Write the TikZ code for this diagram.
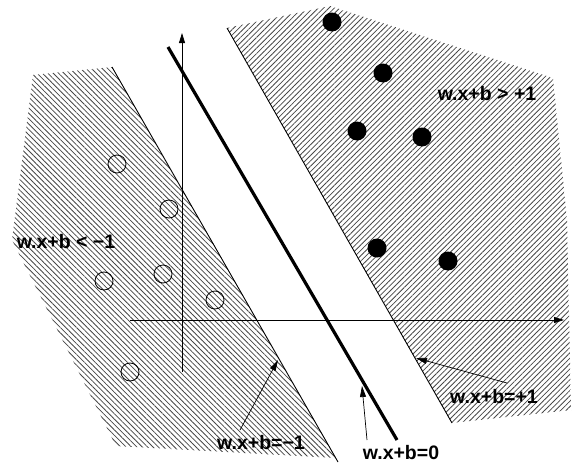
\documentclass[tikz,border=0pt]{standalone}
\usepackage{fontspec}
\setmainfont{Liberation Sans}[BoldFont={Liberation Sans Bold}]
\usetikzlibrary{patterns.meta,arrows.meta}
\begin{document}
\begin{tikzpicture}[x=1pt,y=-1pt,
  hatchL/.style={pattern={Lines[angle=-45,distance=3.8pt,line width=0.8pt]},pattern color=black!72},
  hatchR/.style={pattern={Lines[angle=45,distance=3.8pt,line width=0.8pt]},pattern color=black!72},
  bound/.style={line width=0.9pt},
  axisline/.style={line width=0.8pt,-{Triangle[length=10pt,width=6pt]}},
  ptr/.style={line width=0.7pt,-{Triangle[length=11pt,width=6pt]}},
  sep/.style={line width=3.2pt},
  negdot/.style={circle,draw,line width=0.8pt,minimum size=18pt,inner sep=0pt},
  posdot/.style={circle,fill=black,minimum size=19pt,inner sep=0pt},
  lab/.style={font=\bfseries\fontsize{19.5}{21}\selectfont,inner sep=0pt}]
\useasboundingbox (0,0) rectangle (572,466);
% hatched half-planes
\fill[hatchL] (33,75) -- (112,67) -- (336,458) -- (116,446) -- (12,240) -- cycle;
\fill[hatchR] (227,28) -- (330,6) -- (553,78) -- (567,220) -- (571,410) -- (452,423) -- cycle;
% margin lines
\coordinate (m1a) at (112,67);
\coordinate (m1b) at (338,462);
\coordinate (p1a) at (227,28);
\coordinate (p1b) at (452,423);
\coordinate (h0a) at (168,47);
\coordinate (h0b) at (397,440);
\draw[bound] (m1a) -- (m1b);
\draw[bound] (p1a) -- (p1b);
% axes
\coordinate (xa) at (130,320);
\coordinate (xb) at (564,320);
\coordinate (ya) at (182,372);
\coordinate (yb) at (182,33);
\draw[axisline] (xa) -- (xb);
\draw[axisline] (ya) -- (yb);
% separating hyperplane
\draw[sep] (h0a) -- (h0b);
% negative samples
\node[negdot] (n1) at (117,164) {};
\node[negdot] (n2) at (169,209) {};
\node[negdot] (n3) at (104,281) {};
\node[negdot] (n4) at (163,274) {};
\node[negdot] (n5) at (215,300) {};
\node[negdot] (n6) at (130,372) {};
% positive samples
\node[posdot] (q1) at (332,22) {};
\node[posdot] (q2) at (383,73) {};
\node[posdot] (q3) at (357,131) {};
\node[posdot] (q4) at (422,137) {};
\node[posdot] (q5) at (377,248) {};
\node[posdot] (q6) at (448,261) {};
% labels
\node[lab] (lpos) at (487,94) {w.x+b > +1};
\node[lab] (lneg) at (66,242) {w.x+b < −1};
\node[lab] (lm1) at (261,443) {w.x+b=−1};
\node[lab] (lp1) at (494,397) {w.x+b=+1};
\node[lab] (l0) at (401,453) {w.x+b=0};
% pointers
\coordinate (sm1) at (240,430);
\coordinate (tm1) at (278,360);
\coordinate (s0) at (367,440);
\coordinate (t0) at (362,386);
\coordinate (sp1) at (507,383);
\coordinate (tp1) at (416,358);
\draw[ptr] (sm1) -- (tm1);
\draw[ptr] (s0) -- (t0);
\draw[ptr] (sp1) -- (tp1);
\end{tikzpicture}
\end{document}
